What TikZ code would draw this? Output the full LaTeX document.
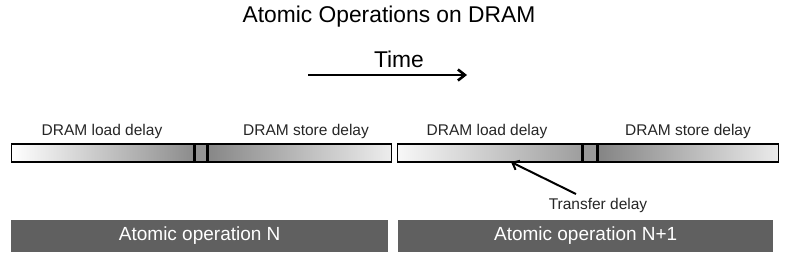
\documentclass[tikz,border=0pt]{standalone}
\usepackage{fontspec}
\setmainfont{Liberation Sans}
\usetikzlibrary{arrows.meta}
\definecolor{opgray}{HTML}{606060}
\tikzset{
  seg/.style={draw=black, line width=1.3pt, inner sep=0pt, minimum height=18pt, anchor=west},
  lbl/.style={font=\fontsize{15.5}{18}\selectfont, text=black!85},
  opbox/.style={fill=opgray, inner sep=0pt, minimum height=32pt, anchor=west, text=white, font=\fontsize{19}{22}\selectfont},
}
\begin{document}
\begin{tikzpicture}[x=1pt,y=-1pt]
\useasboundingbox (0,0) rectangle (786,260);
\node[font=\fontsize{22.8}{26}\selectfont] (title) at (389,17) {Atomic Operations on DRAM};
\node[font=\fontsize{22.8}{26}\selectfont] (time) at (399,59) {Time};
\coordinate (ts) at (308,75);
\coordinate (te) at (467,75);
\draw[line width=2.6pt, -{Straight Barb[length=7pt,width=11pt]}] (ts) -- (te);
% bar 1
\node[seg, left color=white, right color=black!45, minimum width=182pt] (l1) at (11,153) {};
\node[seg, fill=black!42, minimum width=12pt] (m1) at (l1.east) {};
\node[seg, left color=black!47, right color=black!7, minimum width=183pt] (r1) at (m1.east) {};
% bar 2
\node[seg, left color=black!3, right color=black!38, minimum width=184pt] (l2) at (397,153) {};
\node[seg, fill=black!40, minimum width=14pt] (m2) at (l2.east) {};
\node[seg, left color=black!48, right color=black!8, minimum width=180pt] (r2) at (m2.east) {};
% labels
\node[lbl] (ld1) at (102,131) {DRAM load delay};
\node[lbl] (sd1) at (306,131) {DRAM store delay};
\node[lbl] (ld2) at (487,131) {DRAM load delay};
\node[lbl] (sd2) at (688,131) {DRAM store delay};
% transfer
\node[lbl] (tr) at (598,205) {Transfer delay};
\coordinate (trtail) at (576,194);
\coordinate (trtip) at (511,162);
\draw[line width=2pt, -{Straight Barb[length=6pt,width=10pt]}] (trtail) -- (trtip);
% operations
\node[opbox, minimum width=377pt] (opn) at (11,235.5) {Atomic operation N};
\node[opbox, minimum width=375pt] (opn1) at (398,235.5) {Atomic operation N+1};
\end{tikzpicture}
\end{document}
